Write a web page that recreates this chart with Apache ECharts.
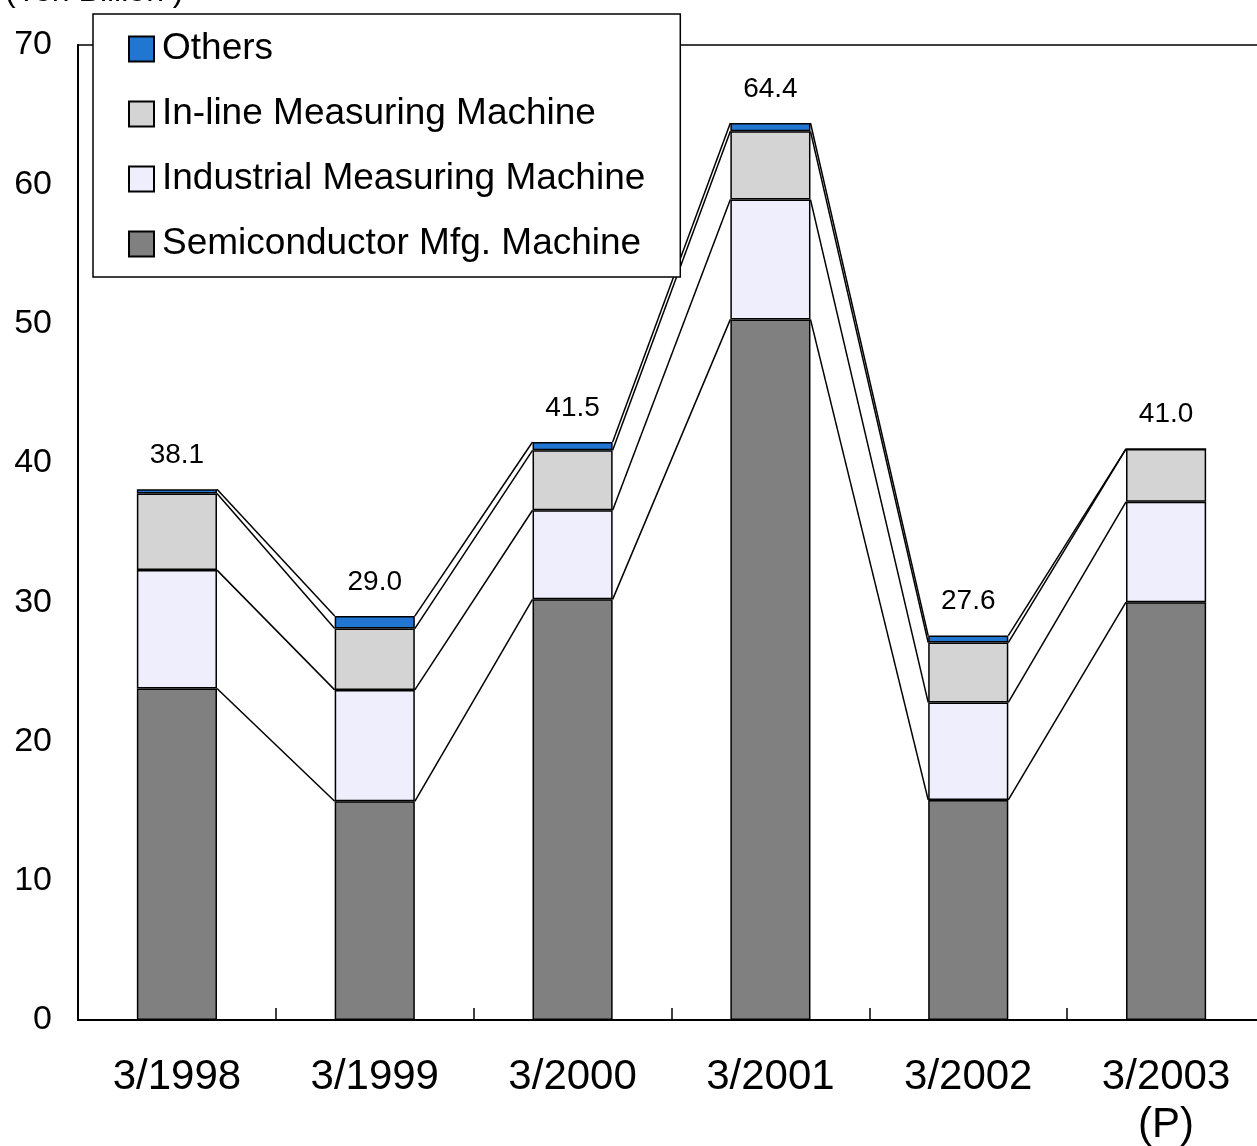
<!DOCTYPE html>
<html>
<head>
<meta charset="utf-8">
<script src="https://cdn.jsdelivr.net/npm/echarts@6/dist/echarts.min.js"></script>
<style>
  html, body { margin: 0; padding: 0; background: #fff; }
  #chart { width: 1257px; height: 1146px; }
</style>
</head>
<body>
<div id="chart"></div>
<script>
const categories = ['3/1998', '3/1999', '3/2000', '3/2001', '3/2002', '3/2003\n(P)'];
const semiconductor = [23.8, 15.7, 30.2, 50.3, 15.8, 30.0];
const industrial = [8.5, 8.0, 6.4, 8.6, 7.0, 7.2];
const inline = [5.5, 4.4, 4.3, 4.9, 4.3, 3.8];
const others = [0.3, 0.9, 0.6, 0.6, 0.5, 0.0];
const yTicks = [0, 10, 20, 30, 40, 50, 60, 70];

const FONT = '"Liberation Sans", Arial, sans-serif';
const BAR_RATIO = 0.405;

// running tops of each layer, for the lines between bars
const layers = [semiconductor, industrial, inline, others];
const tops = categories.map((c, i) => {
  let sum = 0;
  return layers.map(arr => (sum += arr[i]));
});
const totals = tops.map(t => t[t.length - 1]);

const chart = echarts.init(document.getElementById('chart'));

function barSeries(name, data, color) {
  return {
    name: name,
    type: 'bar',
    stack: 'total',
    data: data,
    barWidth: (BAR_RATIO * 100) + '%',
    itemStyle: { color: color, borderColor: '#000', borderWidth: 1.5 },
    emphasis: { disabled: true },
    z: 3
  };
}

const othersSeries = barSeries('Others', others, '#2176d2');
othersSeries.label = {
  show: true,
  position: 'top',
  distance: 20,
  fontFamily: FONT,
  fontSize: 28,
  color: '#000',
  formatter: p => totals[p.dataIndex].toFixed(1)
};

chart.setOption({
  animation: false,
  grid: {
    left: 78, top: 45, width: 1187, bottom: 126,
    outerBoundsMode: 'none',
    containLabel: false,
    show: true, borderColor: '#000', borderWidth: 1.5
  },
  legend: {
    data: ['Others', 'In-line Measuring Machine', 'Industrial Measuring Machine', 'Semiconductor Mfg. Machine'],
    orient: 'vertical',
    left: 93, top: 14,
    padding: [15, 35, 13, 35],
    backgroundColor: '#fff',
    borderColor: '#000',
    borderWidth: 1.5,
    itemWidth: 25, itemHeight: 25,
    itemGap: 25,
    icon: 'rect',
    selectedMode: false,
    textStyle: { fontFamily: FONT, fontSize: 37, color: '#000', lineHeight: 40, padding: [0, 0, 0, 3] }
  },
  graphic: [{
    type: 'text',
    style: { x: 5, y: -8, verticalAlign: 'middle', text: '(Yen Billion )', fontFamily: FONT, fontSize: 32, fill: '#000' }
  }],
  xAxis: {
    type: 'category',
    data: categories,
    axisLine: { lineStyle: { color: '#000', width: 2 } },
    axisTick: { show: true, inside: true, length: 12, lineStyle: { color: '#000', width: 1.5 } },
    axisLabel: { fontFamily: FONT, fontSize: 42, color: '#000', margin: 33, lineHeight: 48 }
  },
  yAxis: {
    type: 'value',
    min: yTicks[0], max: yTicks[yTicks.length - 1], interval: 10,
    axisLine: { show: true, lineStyle: { color: '#000', width: 2 } },
    axisTick: { show: false },
    splitLine: { show: false },
    axisLabel: { fontFamily: FONT, fontSize: 34, color: '#000', margin: 26 }
  },
  series: [
    barSeries('Semiconductor Mfg. Machine', semiconductor, '#808080'),
    barSeries('Industrial Measuring Machine', industrial, '#eeeefc'),
    barSeries('In-line Measuring Machine', inline, '#d4d4d4'),
    othersSeries,
    {
      type: 'custom',
      silent: true,
      z: 2,
      data: categories.slice(0, -1).map((c, i) => [i, 0]),
      renderItem: (params, api) => {
        const i = params.dataIndex;
        const half = api.size([1, 0])[0] * BAR_RATIO / 2;
        const children = tops[i].map((v, k) => {
          const a = api.coord([i, v]);
          const b = api.coord([i + 1, tops[i + 1][k]]);
          return {
            type: 'line',
            shape: { x1: a[0] + half, y1: a[1], x2: b[0] - half, y2: b[1] },
            style: { stroke: '#000', lineWidth: 1.5 }
          };
        });
        return { type: 'group', children: children };
      }
    }
  ]
});
</script>
</body>
</html>
